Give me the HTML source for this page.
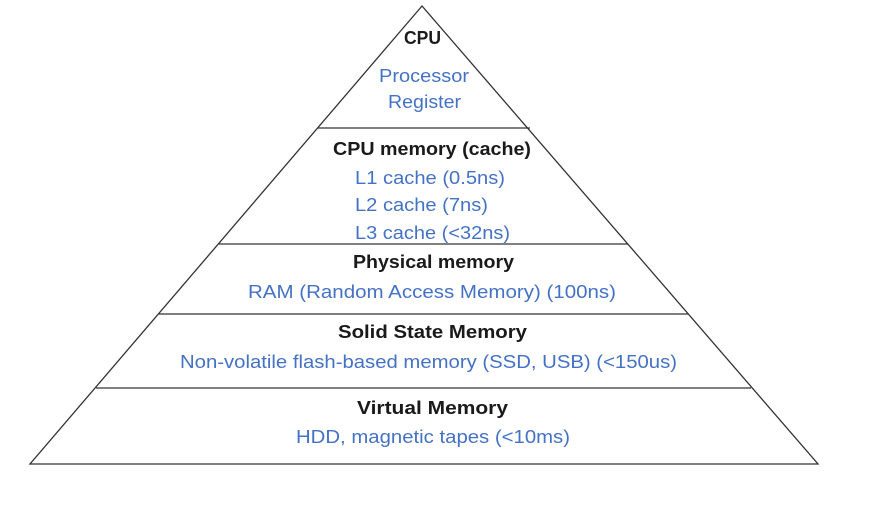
<!DOCTYPE html>
<html><head><meta charset="utf-8"><style>
html,body{margin:0;padding:0;background:#fff;}
svg{display:block;}
text{font-family:"Liberation Sans",sans-serif;font-size:18px;}
.b{font-weight:bold;fill:#1a1a1a;}
.u{fill:#4472C4;}
</style></head><body>
<svg width="872" height="519" viewBox="0 0 872 519">
<g stroke="#333" stroke-width="1.3" fill="none">
<polygon points="422,6 30,464 818,464"/>
<line x1="318" y1="128" x2="530" y2="128"/>
<line x1="219" y1="244" x2="628" y2="244"/>
<line x1="159" y1="314" x2="688" y2="314"/>
<line x1="96" y1="388" x2="751" y2="388"/>
</g>
<text class="b" x="404" y="44" textLength="37" lengthAdjust="spacingAndGlyphs">CPU</text>
<text class="u" x="379" y="82" textLength="90" lengthAdjust="spacingAndGlyphs">Processor</text>
<text class="u" x="388" y="108" textLength="73" lengthAdjust="spacingAndGlyphs">Register</text>
<text class="b" x="333" y="155" textLength="198" lengthAdjust="spacingAndGlyphs">CPU memory (cache)</text>
<text class="u" x="355" y="184" textLength="150" lengthAdjust="spacingAndGlyphs">L1 cache (0.5ns)</text>
<text class="u" x="355" y="211" textLength="133" lengthAdjust="spacingAndGlyphs">L2 cache (7ns)</text>
<text class="u" x="355" y="239" textLength="155" lengthAdjust="spacingAndGlyphs">L3 cache (&lt;32ns)</text>
<text class="b" x="353" y="268" textLength="161" lengthAdjust="spacingAndGlyphs">Physical memory</text>
<text class="u" x="248" y="298" textLength="368" lengthAdjust="spacingAndGlyphs">RAM (Random Access Memory) (100ns)</text>
<text class="b" x="338" y="338" textLength="189" lengthAdjust="spacingAndGlyphs">Solid State Memory</text>
<text class="u" x="180" y="368" textLength="497" lengthAdjust="spacingAndGlyphs">Non-volatile flash-based memory (SSD, USB) (&lt;150us)</text>
<text class="b" x="357" y="414" textLength="151" lengthAdjust="spacingAndGlyphs">Virtual Memory</text>
<text class="u" x="296" y="443" textLength="274" lengthAdjust="spacingAndGlyphs">HDD, magnetic tapes (&lt;10ms)</text>
</svg>
</body></html>
